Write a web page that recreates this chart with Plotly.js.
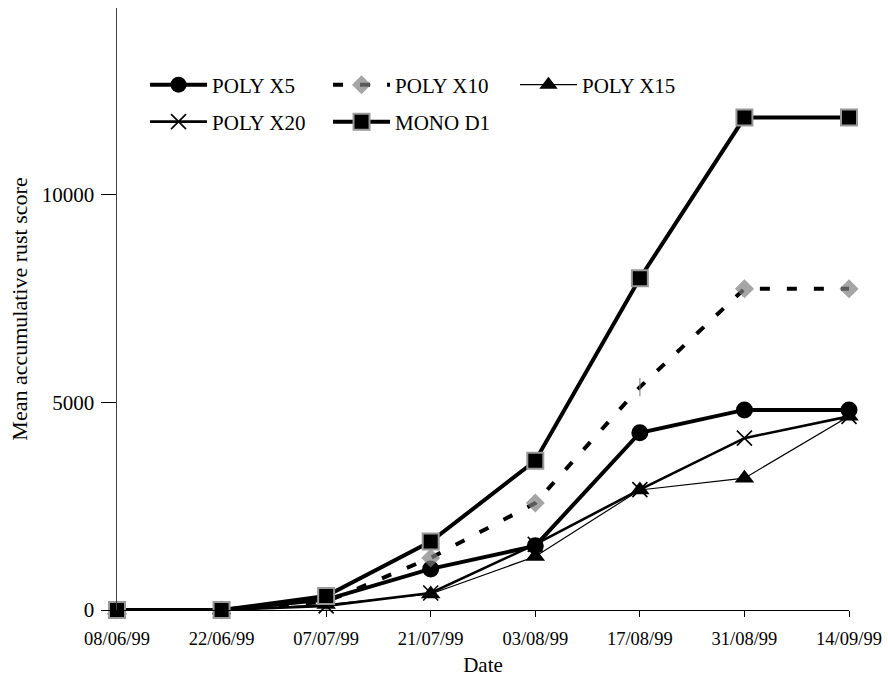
<!DOCTYPE html>
<html>
<head>
<meta charset="utf-8">
<script src="https://cdn.plot.ly/plotly-3.0.1.min.js"></script>
<style>html,body{margin:0;padding:0;background:#fff;}#chart{width:888px;height:677px;}</style>
</head>
<body>
<div id="chart"></div>
<script>
const dates = ["08/06/99","22/06/99","07/07/99","21/07/99","03/08/99","17/08/99","31/08/99","14/09/99"];
const polyX5  = [0, 0, 250, 990, 1545, 4270, 4820, 4820];
const polyX10 = [0, 0, 200, 1255, 2575, 5370, 7735, 7735];
const polyX15 = [0, 0, 130, 385, 1290, 2890, 3175, 4665];
const polyX20 = [0, 0, 100, 410, 1580, 2900, 4140, 4665];
const monoD1  = [0, 0, 337, 1648, 3595, 7990, 11860, 11860];
const seriesNames = ["POLY X5","POLY X10","POLY X15","POLY X20","MONO D1"];
const yTicks = [0, 5000, 10000];

const font = {family: "Liberation Serif, Times New Roman, serif", color: "#000"};

const traces = [
  {x: dates, y: polyX5, name: seriesNames[0], mode: "lines+markers", legend: "legend", cliponaxis: false,
   line: {color: "#000", width: 4}, marker: {symbol: "circle", size: 17, color: "#000"}},
  {x: dates, y: polyX10, name: seriesNames[1], mode: "lines+markers", legend: "legend2", cliponaxis: false,
   line: {color: "#000", width: 4, dash: "10px,17px"},
   marker: {symbol: ["diamond","diamond","diamond","diamond","diamond","line-ns","diamond","diamond"],
            size: [13,13,13,13,13,13,13,13], color: "#808080", line: {color: "#808080", width: 1.5}}},
  {x: dates, y: polyX15, name: seriesNames[2], mode: "lines+markers", legend: "legend3", cliponaxis: false,
   line: {color: "#000", width: 1.2}, marker: {symbol: "triangle-up", size: 17, color: "#000"}},
  {x: dates, y: polyX20, name: seriesNames[3], mode: "lines+markers", legend: "legend4", cliponaxis: false,
   line: {color: "#000", width: 2.6}, marker: {symbol: "x-thin", size: 15, color: "#000", line: {color: "#000", width: 1.6}}},
  {x: dates, y: monoD1, name: seriesNames[4], mode: "lines+markers", legend: "legend5", cliponaxis: false,
   line: {color: "#000", width: 4}, marker: {symbol: "square", size: 16, color: "#000", line: {color: "#999", width: 2}}}
];

function legendAt(x, y) {
  return {
    orientation: "h", xanchor: "left", yanchor: "middle", x: x, y: y,
    font: Object.assign({size: 21}, font), bgcolor: "rgba(0,0,0,0)",
    itemwidth: 57, tracegroupgap: 0
  };
}

const layout = {
  width: 888, height: 677,
  margin: {l: 117, r: 39, t: 8, b: 67},
  paper_bgcolor: "#fff", plot_bgcolor: "#fff",
  font: Object.assign({size: 18}, font),
  showlegend: true,
  legend:  legendAt(0.0383, 0.872),
  legend2: legendAt(0.2883, 0.872),
  legend3: legendAt(0.5437, 0.872),
  legend4: legendAt(0.0383, 0.8106),
  legend5: legendAt(0.2883, 0.8106),
  xaxis: {
    type: "category", range: [0, 7], showgrid: false, zeroline: false,
    showline: true, linecolor: "#000", linewidth: 1.2,
    ticks: "outside", ticklen: 6, tickcolor: "#000",
    tickfont: Object.assign({size: 18.5}, font),
    ticklabelstandoff: 6,
    title: {text: "Date", font: Object.assign({size: 21}, font), standoff: 8}
  },
  yaxis: {
    range: [0, 14500], tickvals: yTicks, ticktext: yTicks.map(String),
    showgrid: false, zeroline: false,
    showline: true, linecolor: "#444", linewidth: 1.5,
    ticks: "outside", ticklen: 15, tickcolor: "#000",
    tickfont: Object.assign({size: 21}, font),
    ticklabelstandoff: 2,
    title: {text: "Mean accumulative rust score", font: Object.assign({size: 22}, font), standoff: 8}
  }
};

Plotly.newPlot("chart", traces, layout, {displayModeBar: false, staticPlot: true});
</script>
</body>
</html>
